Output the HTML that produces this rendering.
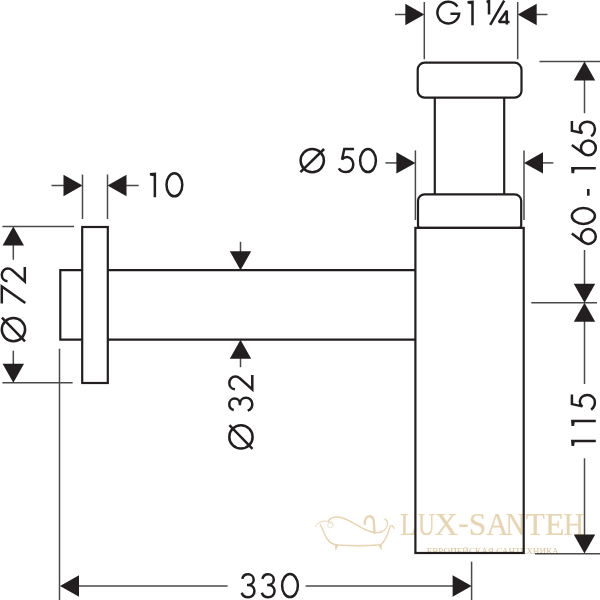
<!DOCTYPE html>
<html><head><meta charset="utf-8"><style>html,body{margin:0;padding:0;background:#fff;}svg{display:block;}</style></head>
<body><svg width="600" height="600" viewBox="0 0 600 600">
<rect width="600" height="600" fill="#fff"/>
<g fill="none" stroke="#231f20" stroke-width="2.20" stroke-linejoin="miter"><rect x="417.7" y="62.7" width="103.8" height="35" rx="7" ry="7"/><line x1="434.80" y1="97.70" x2="434.80" y2="194.30"/><line x1="504.20" y1="97.70" x2="504.20" y2="194.30"/><path d="M424.50,194.30 H514.70 A6.5,6.5 0 0 1 521.20,200.80 V225.40 A2.5,2.5 0 0 1 518.70,227.90 H420.50 A2.5,2.5 0 0 1 418.00,225.40 V200.80 A6.5,6.5 0 0 1 424.50,194.30 Z"/><rect x="415.4" y="227.9" width="108.3" height="325.1"/><line x1="107.80" y1="270.20" x2="415.40" y2="270.20"/><line x1="107.80" y1="339.70" x2="415.40" y2="339.70"/><rect x="82.2" y="227.0" width="25.6" height="156.0"/><path d="M82.2,270.2 H60.3 V339.7 H82.2"/></g>
<g fill="none" stroke="#4a4a4a" stroke-width="1.50"><line x1="424.30" y1="2.00" x2="424.30" y2="59.20"/><line x1="517.70" y1="2.00" x2="517.70" y2="59.20"/><line x1="395.00" y1="14.50" x2="406.00" y2="14.50"/><line x1="536.00" y1="14.50" x2="547.50" y2="14.50"/><line x1="415.40" y1="150.40" x2="415.40" y2="220.00"/><line x1="524.00" y1="150.40" x2="524.00" y2="220.00"/><line x1="385.40" y1="162.90" x2="397.00" y2="162.90"/><line x1="542.00" y1="162.90" x2="553.30" y2="162.90"/><line x1="539.50" y1="61.50" x2="600.00" y2="61.50"/><line x1="584.50" y1="80.00" x2="584.50" y2="113.20"/><line x1="584.50" y1="250.00" x2="584.50" y2="284.00"/><line x1="531.30" y1="302.70" x2="597.00" y2="302.70"/><line x1="584.50" y1="321.00" x2="584.50" y2="384.00"/><line x1="584.50" y1="458.30" x2="584.50" y2="535.00"/><line x1="535.00" y1="553.70" x2="600.00" y2="553.70"/><line x1="82.50" y1="174.50" x2="82.50" y2="219.00"/><line x1="107.50" y1="174.50" x2="107.50" y2="219.00"/><line x1="51.50" y1="185.50" x2="64.00" y2="185.50"/><line x1="126.00" y1="185.50" x2="138.70" y2="185.50"/><line x1="2.40" y1="226.60" x2="74.00" y2="226.60"/><line x1="2.40" y1="382.80" x2="72.60" y2="382.80"/><line x1="13.30" y1="245.00" x2="13.30" y2="259.70"/><line x1="13.30" y1="350.70" x2="13.30" y2="365.00"/><line x1="240.50" y1="241.80" x2="240.50" y2="252.00"/><line x1="240.50" y1="357.00" x2="240.50" y2="367.20"/><line x1="59.50" y1="348.70" x2="59.50" y2="600.00"/><line x1="471.60" y1="561.60" x2="471.60" y2="600.00"/><line x1="79.00" y1="586.00" x2="227.60" y2="586.00"/><line x1="305.60" y1="586.00" x2="453.00" y2="586.00"/></g>
<g fill="#231f20" stroke="none"><polygon points="424.30,14.50 405.30,3.80 405.30,25.20"/><polygon points="517.70,14.50 536.70,3.80 536.70,25.20"/><polygon points="415.40,162.90 396.40,152.20 396.40,173.60"/><polygon points="524.00,162.90 543.00,152.20 543.00,173.60"/><polygon points="584.50,61.50 573.80,80.50 595.20,80.50"/><polygon points="584.50,302.70 573.80,283.70 595.20,283.70"/><polygon points="584.50,302.70 573.80,321.70 595.20,321.70"/><polygon points="584.50,553.50 573.80,534.50 595.20,534.50"/><polygon points="82.50,185.50 63.50,174.80 63.50,196.20"/><polygon points="107.50,185.50 126.50,174.80 126.50,196.20"/><polygon points="13.30,226.60 2.60,245.60 24.00,245.60"/><polygon points="13.30,382.80 2.60,363.80 24.00,363.80"/><polygon points="240.50,270.20 229.80,251.20 251.20,251.20"/><polygon points="240.50,339.70 229.80,358.70 251.20,358.70"/><polygon points="60.00,586.00 79.00,575.30 79.00,596.70"/><polygon points="471.60,586.00 452.60,575.30 452.60,596.70"/></g>
<g fill="none" stroke="#231f20" stroke-width="2.50" stroke-linecap="butt"><g transform="translate(436.25,0.50)"><path d="M14.2,13.2 H22.9 A10.9,10.9 0 1 1 21.1,6.0"/></g><g transform="translate(466.65,0.30)"><path d="M0.85,0.7 L7.1,0.2 V25 H4.6 V3.9 L0.85,3.3 Z" fill="#231f20" stroke="none"/></g><g transform="translate(486.00,0.00)"><path d="M0.6,2.0 L3.2,1.0 M3,0 V14.6 M4.2,24.8 L18.2,0.6"/><path d="M20.8,24.6 V10.8 L12.9,21.9 H23.5" stroke-miterlimit="1.5"/></g><g transform="translate(299.20,147.80)"><circle cx="13.05" cy="12.75" r="11.65"/><path d="M1.2,24.3 L24.9,1.2"/></g><g transform="translate(338.00,148.00)"><path stroke-miterlimit="1.65" d="M16,1.1 H6.3 L4.0,11.6 C5.3,9.9 7.0,9.0 8.9,9.0 C12.6,9.0 15.3,12.3 15.3,16.6 C15.3,20.9 12.3,24.1 8.3,24.1 C5.0,24.1 2.2,22.5 0.8,20.3"/></g><g transform="translate(359.00,148.00)"><ellipse cx="9" cy="12.6" rx="7.9" ry="11.5"/></g><g transform="translate(149.00,172.30)"><path d="M0.85,0.7 L7.1,0.2 V25 H4.6 V3.9 L0.85,3.3 Z" fill="#231f20" stroke="none"/></g><g transform="translate(165.40,172.20)"><ellipse cx="9" cy="12.6" rx="7.9" ry="11.5"/></g><g transform="translate(240.80,573.25)"><path d="M1.5,5.6 C2.2,2.8 4.6,1.1 7.2,1.1 C10.4,1.1 12.9,3.4 12.9,6.4 C12.9,9.5 10.6,11.7 7.2,11.7 H6.2 M7.2,11.7 C11,11.7 13.65,14.3 13.65,17.8 C13.65,21.4 10.9,24.1 7.3,24.1 C4.4,24.1 1.9,22.4 0.9,19.5"/></g><g transform="translate(260.90,573.25)"><path d="M1.5,5.6 C2.2,2.8 4.6,1.1 7.2,1.1 C10.4,1.1 12.9,3.4 12.9,6.4 C12.9,9.5 10.6,11.7 7.2,11.7 H6.2 M7.2,11.7 C11,11.7 13.65,14.3 13.65,17.8 C13.65,21.4 10.9,24.1 7.3,24.1 C4.4,24.1 1.9,22.4 0.9,19.5"/></g><g transform="translate(281.00,573.00)"><ellipse cx="9" cy="12.6" rx="7.9" ry="11.5"/></g><g transform="translate(0.70,342.60) rotate(-90)"><g transform="translate(0.00,0)"><circle cx="13.05" cy="12.75" r="11.65"/><path d="M1.2,24.3 L24.9,1.2"/></g><g transform="translate(39.00,0)"><path d="M0.2,1.1 H17.2 L0.6,24.6"/></g><g transform="translate(60.20,0)"><path d="M1.2,6.8 C1.5,3.4 4.3,1.1 7.6,1.1 C11.1,1.1 13.9,3.8 13.9,7.2 C13.9,8.9 13.3,10.2 12.2,11.6 L1.0,24.1 H15.4"/></g></g><g transform="translate(228.20,450.00) rotate(-90)"><g transform="translate(0.00,0)"><circle cx="13.05" cy="12.75" r="11.65"/><path d="M1.2,24.3 L24.9,1.2"/></g><g transform="translate(38.50,0)"><path d="M1.5,5.6 C2.2,2.8 4.6,1.1 7.2,1.1 C10.4,1.1 12.9,3.4 12.9,6.4 C12.9,9.5 10.6,11.7 7.2,11.7 H6.2 M7.2,11.7 C11,11.7 13.65,14.3 13.65,17.8 C13.65,21.4 10.9,24.1 7.3,24.1 C4.4,24.1 1.9,22.4 0.9,19.5"/></g><g transform="translate(59.50,0)"><path d="M1.2,6.8 C1.5,3.4 4.3,1.1 7.6,1.1 C11.1,1.1 13.9,3.8 13.9,7.2 C13.9,8.9 13.3,10.2 12.2,11.6 L1.0,24.1 H15.4"/></g></g><g transform="translate(570.80,245.00) rotate(-90)"><g transform="translate(0.00,0)"><path d="M11.4,1.0 L2.6,13.1"/><circle cx="8.5" cy="17.6" r="7.4"/></g><g transform="translate(20.00,0)"><ellipse cx="9" cy="12.6" rx="7.9" ry="11.5"/></g><g transform="translate(49.30,0)"><path d="M0,17.5 H6.7" stroke-width="2.6"/></g><g transform="translate(70.95,0)"><path d="M0.85,0.7 L7.1,0.2 V25 H4.6 V3.9 L0.85,3.3 Z" fill="#231f20" stroke="none"/></g><g transform="translate(88.60,0)"><path d="M11.4,1.0 L2.6,13.1"/><circle cx="8.5" cy="17.6" r="7.4"/></g><g transform="translate(108.00,0)"><path stroke-miterlimit="1.65" d="M16,1.1 H6.3 L4.0,11.6 C5.3,9.9 7.0,9.0 8.9,9.0 C12.6,9.0 15.3,12.3 15.3,16.6 C15.3,20.9 12.3,24.1 8.3,24.1 C5.0,24.1 2.2,22.5 0.8,20.3"/></g></g><g transform="translate(570.80,446.10) rotate(-90)"><g transform="translate(-0.85,0)"><path d="M0.85,0.7 L7.1,0.2 V25 H4.6 V3.9 L0.85,3.3 Z" fill="#231f20" stroke="none"/></g><g transform="translate(19.35,0)"><path d="M0.85,0.7 L7.1,0.2 V25 H4.6 V3.9 L0.85,3.3 Z" fill="#231f20" stroke="none"/></g><g transform="translate(35.70,0)"><path stroke-miterlimit="1.65" d="M16,1.1 H6.3 L4.0,11.6 C5.3,9.9 7.0,9.0 8.9,9.0 C12.6,9.0 15.3,12.3 15.3,16.6 C15.3,20.9 12.3,24.1 8.3,24.1 C5.0,24.1 2.2,22.5 0.8,20.3"/></g></g></g>
<g style="mix-blend-mode:multiply"><text transform="translate(400.13,534.60) scale(0.842,1)" font-family="Liberation Serif" font-size="30.6" fill="#e7d4b1" stroke="#e7d4b1" stroke-width="0.2">L</text><text transform="translate(417.94,534.60) scale(0.759,1)" font-family="Liberation Serif" font-size="30.6" fill="#e7d4b1" stroke="#e7d4b1" stroke-width="0.2">U</text><text transform="translate(434.54,534.60) scale(1.067,1)" font-family="Liberation Serif" font-size="30.6" fill="#e7d4b1" stroke="#e7d4b1" stroke-width="0.2">X</text><text transform="translate(458.14,532.90) scale(1.031,1)" font-family="Liberation Serif" font-size="30.6" fill="#e7d4b1" stroke="#e7d4b1" stroke-width="0.2">-</text><text transform="translate(468.69,534.60) scale(1.034,1)" font-family="Liberation Serif" font-size="30.6" fill="#e7d4b1" stroke="#e7d4b1" stroke-width="0.2">S</text><text transform="translate(486.29,534.60) scale(1.004,1)" font-family="Liberation Serif" font-size="30.6" fill="#e7d4b1" stroke="#e7d4b1" stroke-width="0.2">A</text><text transform="translate(505.59,534.60) scale(0.883,1)" font-family="Liberation Serif" font-size="30.6" fill="#e7d4b1" stroke="#e7d4b1" stroke-width="0.2">N</text><text transform="translate(525.68,534.60) scale(1.023,1)" font-family="Liberation Serif" font-size="30.6" fill="#e7d4b1" stroke="#e7d4b1" stroke-width="0.2">T</text><text transform="translate(545.04,534.60) scale(1.042,1)" font-family="Liberation Serif" font-size="30.6" fill="#e7d4b1" stroke="#e7d4b1" stroke-width="0.2">E</text><text transform="translate(563.86,534.60) scale(0.916,1)" font-family="Liberation Serif" font-size="30.6" fill="#e7d4b1" stroke="#e7d4b1" stroke-width="0.2">H</text><text x="426.7" y="554" font-family="Liberation Serif" font-size="9" fill="#d6c096" textLength="132" lengthAdjust="spacingAndGlyphs">ЕВРОПЕЙСКАЯ САНТЕХНИКА</text><g fill="none" stroke="#e7d4b1" stroke-width="1.4" stroke-linecap="round" stroke-linejoin="round"><path d="M328.5,520.75 C331,517 336,516.5 341,517.5 C349,519.5 356,525 364,529 C370,532 376,533.5 381,532 C385,530.5 388,527 387.5,523 C387.2,521 386,519.5 385,519.25"/><path d="M320.25,524.5 C323,530 325,536 328,540 C330,543 333,544.5 338,545 C350,545.8 368,545.8 380.5,544.75 C385,542 388,534 390.25,526 C391.5,525 393,526 394,528.25"/><path d="M315.4,526.4 C317,524 319,522.5 322,521.5 C325,520.5 328,521 331,523" stroke-width="1"/><path d="M331,521.5 C334,523 333.5,527.5 330.5,527.8 C327.5,528 327,524 329,522" stroke-width="0.9"/><path d="M364.75,524 C364.5,519 366.5,516.25 369.5,516.25 C373,516.25 374,520 374,524 L374.5,532.75" stroke-width="2.3"/></g><g fill="#e7d4b1" stroke="none"><path d="M334.8,544.6 L338.8,544.8 L335.6,551 Z M378.2,545 L382,544.7 L381.4,550.5 Z"/><path d="M369.25,535.75 L376.75,540.25 M372,537.5 L365.5,541.75" stroke-width="0.8"/></g></g>
</svg></body></html>
